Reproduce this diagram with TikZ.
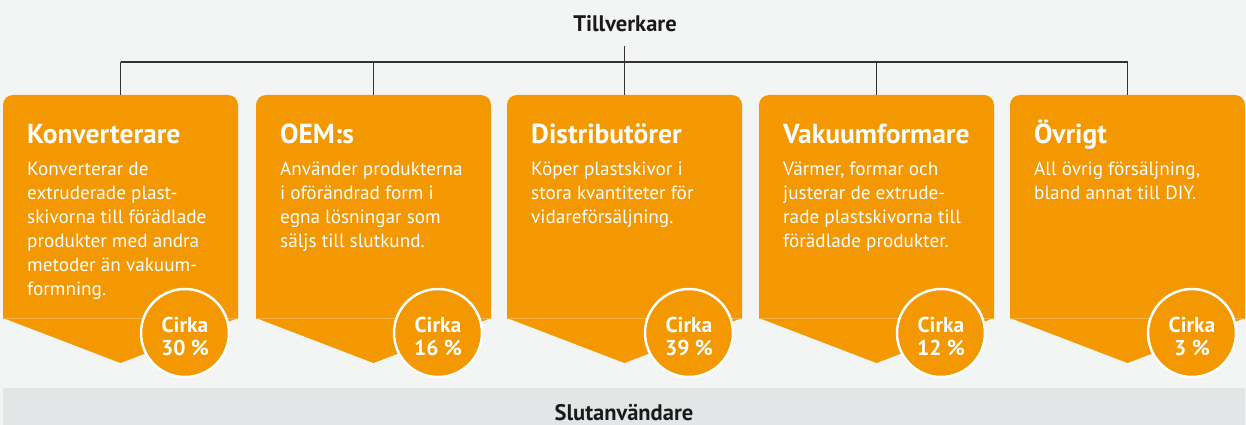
\documentclass[tikz,border=0pt]{standalone}
\usepackage{fontspec}
\setmainfont{PT Sans}
\definecolor{bgcol}{HTML}{F3F4F4}
\definecolor{bandcol}{HTML}{E3E6E7}
\definecolor{boxorange}{HTML}{F39800}
\definecolor{linecol}{HTML}{333333}
\definecolor{txtdark}{HTML}{1A1A1A}
\tikzset{
  conn/.style={draw=linecol, line width=1.4pt},
  boxtitle/.style={anchor=base west, inner sep=0pt, text=white, font=\bfseries\fontsize{27.5}{32}\selectfont},
  boxbody/.style={anchor=base west, inner sep=0pt, text=white},
  pctcircle/.style={circle, fill=boxorange, draw=white, line width=2.5pt, minimum size=88pt, inner sep=0pt},
  pcttext/.style={anchor=base, inner sep=0pt, text=white},
  headlabel/.style={anchor=base, inner sep=0pt, text=txtdark, font=\bfseries\fontsize{22.5}{27}\selectfont},
}
\newcommand{\myorangebox}[5]{%
  \pgfmathsetmacro\xl{#2}%
  \pgfmathsetmacro\xr{#2+235}%
  \pgfmathsetmacro\xc{#2+117.5}%
  \fill[boxorange] (\xl,-318) -- (\xl,-105) arc[start angle=180,end angle=90,radius=10] -- (\xr-10,-95) arc[start angle=90,end angle=0,radius=10] -- (\xr,-318) -- (\xc,-363) -- cycle;
  \draw[boxorange!75!white, line width=0.7pt] (\xl,-318) -- (\xr,-318);
  \coordinate (top#1) at (\xc,-95);
  \node[boxtitle] (title#1) at (\xl+24,-143) {#3};
  \node[boxbody] (body#1) at (\xl+24,-175) {\parbox[t]{230pt}{\fontsize{19.2}{24}\selectfont #4}};
  \node[pctcircle] (circ#1) at (\xl+182,-333) {};
  \node[pcttext] (pct#1) at (\xl+182,-332) {\parbox[t]{80pt}{\centering\bfseries\fontsize{21.5}{23}\selectfont Cirka\\#5~\%}};
}
\begin{document}
\begin{tikzpicture}[x=1pt,y=1pt]
\fill[bgcol] (0,0) rectangle (1246,-425);
\useasboundingbox (0,0) rectangle (1246,-425);
\fill[bandcol] (3,-388) rectangle (1245,-425);
\node[headlabel] (tillv) at (625,-32) {Tillverkare};
\node[headlabel] (slut) at (624,-420) {Slutanvändare};

\myorangebox{1}{3}{Konverterare}{Konverterar de\\extruderade plast-\\skivorna till förädlade\\produkter med andra\\metoder än vakuum-\\formning.}{30}
\myorangebox{2}{256}{OEM:s}{Använder produkterna\\i oförändrad form i\\egna lösningar som\\säljs till slutkund.}{16}
\myorangebox{3}{507}{Distributörer}{Köper plastskivor i\\stora kvantiteter för\\vidareförsäljning.}{39}
\myorangebox{4}{759}{Vakuumformare}{Värmer, formar och\\justerar de extrude-\\rade plastskivorna till\\förädlade produkter.}{12}
\myorangebox{5}{1010}{Övrigt}{All övrig försäljning,\\bland annat till DIY.}{3}

\coordinate (tvline) at (624.5,-46);
\coordinate (hl) at (top1 |- 0,-62);
\coordinate (hr) at (top5 |- 0,-62);
\draw[conn] (hl) -- (hr);
\draw[conn] (top1) -- (hl);
\draw[conn] (top2) -- (top2 |- hl);
\draw[conn] (tvline) -- (top3);
\draw[conn] (top4) -- (top4 |- hl);
\draw[conn] (top5) -- (hr);
\end{tikzpicture}
\end{document}
